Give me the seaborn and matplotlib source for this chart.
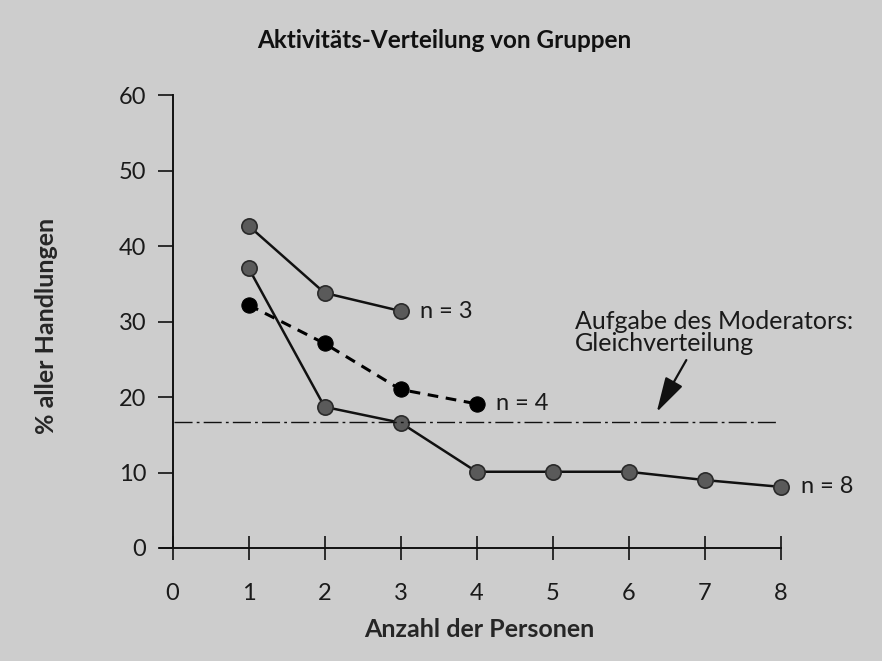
import matplotlib
matplotlib.use("Agg")
import matplotlib.pyplot as plt
import seaborn as sns
import pandas as pd

# ---- data ----
x3 = [1, 2, 3]
y3 = [42.7, 33.8, 31.4]
x4 = [1, 2, 3, 4]
y4 = [32.2, 27.1, 21.0, 19.1]
x8 = [1, 2, 3, 4, 5, 6, 7, 8]
y8 = [37.1, 18.7, 16.6, 10.1, 10.1, 10.1, 9.0, 8.1]
equal_share = 16.67
xticks = [0, 1, 2, 3, 4, 5, 6, 7, 8]
yticks = [0, 10, 20, 30, 40, 50, 60]
labels = ["n = 3", "n = 4", "n = 8"]

BG = "#cdcdcd"
sns.set_theme(style="white")
plt.rcParams['font.family'] = ['Lato', 'DejaVu Sans']

fig = plt.figure(figsize=(8.82, 6.61), dpi=100, facecolor=BG)
ax = fig.add_axes([0.181, 0.171, 0.704, 0.685])
ax.set_facecolor(BG)

d3 = pd.DataFrame({"x": x3, "y": y3})
d4 = pd.DataFrame({"x": x4, "y": y4})
d8 = pd.DataFrame({"x": x8, "y": y8})

common = dict(ax=ax, x="x", y="y", marker="o", markersize=11, linewidth=1.8)
sns.lineplot(data=d3, color="#111111", markerfacecolor="#5a5a5a",
             markeredgecolor="#2a2a2a", markeredgewidth=1.2, **common)
sns.lineplot(data=d8, color="#111111", markerfacecolor="#5a5a5a",
             markeredgecolor="#2a2a2a", markeredgewidth=1.2, clip_on=False, **common)
sns.lineplot(data=d4, color="#000000", markerfacecolor="#000000",
             markeredgecolor="#000000", **common)
ax.lines[-1].set_linestyle((0, (3.5, 2.5)))
ax.lines[-1].set_linewidth(2.2)

ax.plot([0.02, 7.97], [equal_share, equal_share], color="#111111", lw=1.0,
        linestyle=(0, (13, 3, 2, 3)))

ax.set_xlim(-0.17, 8.0)
ax.set_ylim(0, 60)
ax.spines["top"].set_visible(False)
ax.spines["right"].set_visible(False)
ax.spines["left"].set_position(("data", 0))
for s in ["left", "bottom"]:
    ax.spines[s].set_color("#111111")
    ax.spines[s].set_linewidth(1.4)
ax.set_xticks(xticks)
ax.set_yticks(yticks)
ax.tick_params(axis="x", direction="inout", length=17, width=1.2, color="#111111",
               labelsize=17, pad=17, bottom=True)
ax.tick_params(axis="y", direction="out", length=11, width=1.2, color="#111111",
               labelsize=17, pad=8, left=True)
for lab in ax.get_xticklabels() + ax.get_yticklabels():
    lab.set_color("#1a1a1a")

ax.set_xlabel("Anzahl der Personen", fontsize=18, fontweight="bold", labelpad=14)
ax.xaxis.set_label_coords((480 - 160) / 621, -0.155)
ax.set_ylabel("% aller Handlungen", fontsize=18, fontweight="bold", labelpad=0)
ax.yaxis.set_label_coords(-0.163, (548 - 326) / 453)
fig.text(444 / 882, 1 - 40 / 661, "Aktivitäts-Verteilung von Gruppen", ha="center",
         va="center", fontsize=17.5, fontweight="bold", color="#111111")

ax.text(x3[-1] + 0.25, y3[-1], labels[0], fontsize=17, va="center", color="#1a1a1a")
ax.text(x4[-1] + 0.25, y4[-1], labels[1], fontsize=17, va="center", color="#1a1a1a")
ax.text(x8[-1] + 0.27, y8[-1], labels[2], fontsize=17, va="center", color="#1a1a1a")

ax.text(5.3, 28.5, "Aufgabe des Moderators:\nGleichverteilung", fontsize=18,
        va="center", ha="left", linespacing=0.95, color="#1a1a1a")
ax.annotate("", xy=(6.37, 18.0), xytext=(6.76, 24.9),
            arrowprops=dict(arrowstyle="-|>,head_length=1.8,head_width=0.5",
                            color="#111111", lw=1.6, shrinkA=0, shrinkB=0))

if ax.get_legend():
    ax.get_legend().remove()

fig.savefig("out.png", dpi=100, facecolor=BG)
